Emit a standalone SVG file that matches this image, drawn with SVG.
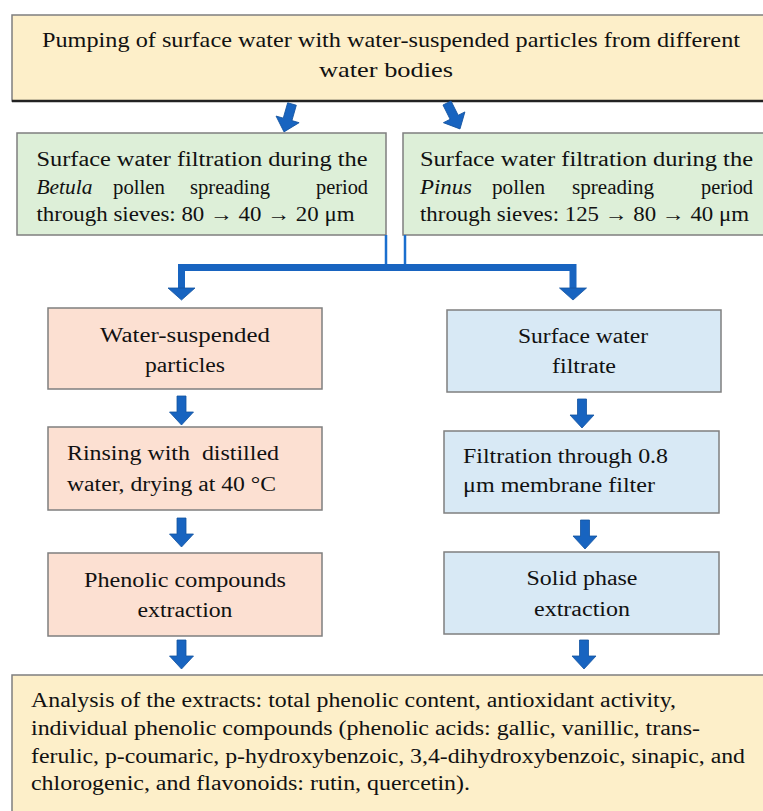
<svg xmlns="http://www.w3.org/2000/svg" xmlns:xlink="http://www.w3.org/1999/xlink" width="763" height="811" viewBox="0 0 763 811">
<style>
.t{font-family:"Liberation Serif","Times New Roman",serif;font-size:20px;fill:#111;}
.tb{font-size:21px;}
.i{font-style:italic;}
.m{text-anchor:middle;}
.e{text-anchor:end;}
.box{stroke:#7f7f7f;stroke-width:1.5;}
.yel{fill:#fdefc9;}
.grn{fill:#ddefd8;}
.pnk{fill:#fce0d2;}
.blu{fill:#d8e9f5;}
.arr{fill:#1864c0;stroke:#13539f;stroke-width:0.8;}
.thin{stroke:#1a6fce;stroke-width:2.5;fill:none;}
.bar{stroke:#1864c0;stroke-width:7;fill:none;}
</style>
<defs>
<path id="da" d="M-4.5,0 H4.5 V16 H12 L0,29 L-12,16 H-4.5 Z"/>
</defs>
<rect width="763" height="811" fill="#ffffff"/>

<g id="n-top">
<rect class="box yel" x="12" y="15" width="760" height="86"/>
<line x1="12" y1="101" x2="772" y2="101" stroke="#222" stroke-width="2.5"/>
<text class="t tb" x="42" y="47" textLength="698" lengthAdjust="spacingAndGlyphs">Pumping of surface water with water-suspended particles from different</text>
<text class="t tb m" x="386" y="77" textLength="134" lengthAdjust="spacingAndGlyphs">water bodies</text>
</g>

<g id="n-betula">
<rect class="box grn" x="17" y="133" width="369" height="102"/>
<text class="t" x="36.5" y="166" textLength="331" lengthAdjust="spacingAndGlyphs">Surface water filtration during the</text>
<text class="t i" x="36.5" y="194" textLength="56" lengthAdjust="spacingAndGlyphs">Betula</text>
<text class="t" x="113" y="194" textLength="52" lengthAdjust="spacingAndGlyphs">pollen</text>
<text class="t" x="190" y="194" textLength="80" lengthAdjust="spacingAndGlyphs">spreading</text>
<text class="t" x="316" y="194" textLength="52" lengthAdjust="spacingAndGlyphs">period</text>
<text class="t" x="36.5" y="221" textLength="318" lengthAdjust="spacingAndGlyphs">through sieves: 80 → 40 → 20 μm</text>
</g>

<g id="n-pinus">
<rect class="box grn" x="403" y="133" width="370" height="102"/>
<text class="t" x="420" y="166" textLength="333" lengthAdjust="spacingAndGlyphs">Surface water filtration during the</text>
<text class="t i" x="420" y="194" textLength="52" lengthAdjust="spacingAndGlyphs">Pinus</text>
<text class="t" x="492" y="194" textLength="53" lengthAdjust="spacingAndGlyphs">pollen</text>
<text class="t" x="572" y="194" textLength="82" lengthAdjust="spacingAndGlyphs">spreading</text>
<text class="t" x="701" y="194" textLength="52" lengthAdjust="spacingAndGlyphs">period</text>
<text class="t" x="420" y="221" textLength="329" lengthAdjust="spacingAndGlyphs">through sieves: 125 → 80 → 40 μm</text>
</g>

<g id="n-particles">
<rect class="box pnk" x="48" y="308" width="274" height="81"/>
<text class="t m" x="185" y="342" textLength="170" lengthAdjust="spacingAndGlyphs">Water-suspended</text>
<text class="t m" x="185" y="372" textLength="80" lengthAdjust="spacingAndGlyphs">particles</text>
</g>

<g id="n-filtrate">
<rect class="box blu" x="447" y="310" width="274" height="82"/>
<text class="t m" x="583" y="343" textLength="130" lengthAdjust="spacingAndGlyphs">Surface water</text>
<text class="t m" x="584" y="373" textLength="64" lengthAdjust="spacingAndGlyphs">filtrate</text>
</g>

<g id="n-rinsing">
<rect class="box pnk" x="48" y="427" width="274" height="83"/>
<text class="t" x="67" y="460" textLength="212" lengthAdjust="spacingAndGlyphs" xml:space="preserve">Rinsing with  distilled</text>
<text class="t" x="67" y="491" textLength="209" lengthAdjust="spacingAndGlyphs">water, drying at 40 °C</text>
</g>

<g id="n-membrane">
<rect class="box blu" x="444" y="431" width="275" height="82"/>
<text class="t" x="463" y="463" textLength="205" lengthAdjust="spacingAndGlyphs">Filtration through 0.8</text>
<text class="t" x="463" y="492" textLength="192" lengthAdjust="spacingAndGlyphs">μm membrane filter</text>
</g>

<g id="n-phenolic">
<rect class="box pnk" x="48" y="553" width="274" height="83"/>
<text class="t m" x="185" y="587" textLength="202" lengthAdjust="spacingAndGlyphs">Phenolic compounds</text>
<text class="t m" x="185" y="617" textLength="95" lengthAdjust="spacingAndGlyphs">extraction</text>
</g>

<g id="n-spe">
<rect class="box blu" x="444" y="552" width="275" height="82"/>
<text class="t m" x="582" y="585" textLength="111" lengthAdjust="spacingAndGlyphs">Solid phase</text>
<text class="t m" x="582" y="616" textLength="96" lengthAdjust="spacingAndGlyphs">extraction</text>
</g>

<g id="n-analysis">
<rect class="box yel" x="12" y="675" width="760" height="145"/>
<text class="t" x="31" y="707" textLength="645" lengthAdjust="spacingAndGlyphs">Analysis of the extracts: total phenolic content, antioxidant activity,</text>
<text class="t" x="31" y="735" textLength="669" lengthAdjust="spacingAndGlyphs">individual phenolic compounds (phenolic acids: gallic, vanillic, trans-</text>
<text class="t" x="31" y="763" textLength="714" lengthAdjust="spacingAndGlyphs">ferulic, p-coumaric, p-hydroxybenzoic, 3,4-dihydroxybenzoic, sinapic, and</text>
<text class="t" x="31" y="790" textLength="439" lengthAdjust="spacingAndGlyphs">chlorogenic, and flavonoids: rutin, quercetin).</text>
</g>

<g id="connectors">
<use href="#da" class="arr" transform="translate(292,104) rotate(16)"/>
<use href="#da" class="arr" transform="translate(447,103) rotate(-26.6)"/>
<line class="thin" x1="386" y1="235" x2="386" y2="267"/>
<line class="thin" x1="405" y1="235" x2="405" y2="267"/>
<path class="bar" d="M181.5,289 V267.5 H573 V289" stroke-linejoin="miter"/>
<path class="arr" d="M168,288 H195 L181.5,300 Z"/>
<path class="arr" d="M559.5,288 H586.5 L573,300 Z"/>
<use href="#da" class="arr" transform="translate(181.5,396)"/>
<use href="#da" class="arr" transform="translate(582,399)"/>
<use href="#da" class="arr" transform="translate(181.5,518)"/>
<use href="#da" class="arr" transform="translate(585,520)"/>
<use href="#da" class="arr" transform="translate(181.5,640)"/>
<use href="#da" class="arr" transform="translate(584,640)"/>
</g>
</svg>
